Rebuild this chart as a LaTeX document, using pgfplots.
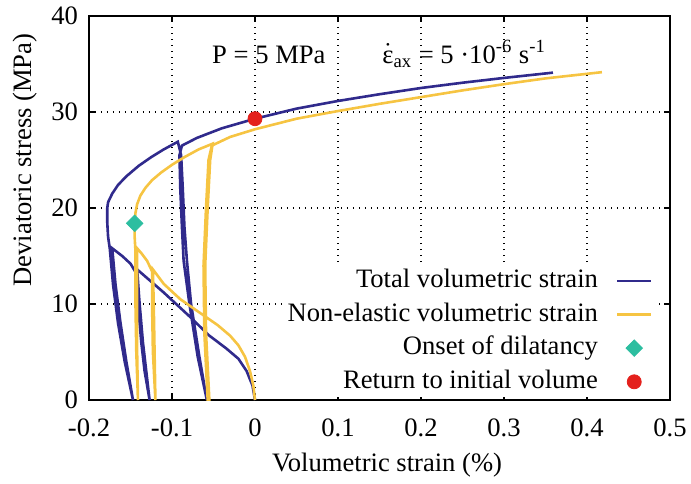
\documentclass[border=0pt]{standalone}
\usepackage{fontspec}
\setmainfont{Liberation Serif}
\usepackage{amsmath}
\usepackage{pgfplots}
\pgfplotsset{compat=1.18}

\definecolor{totblue}{RGB}{48,42,140}
\definecolor{nelyellow}{RGB}{246,196,66}
\definecolor{dilteal}{RGB}{44,190,160}
\definecolor{retred}{RGB}{228,32,28}

% total volumetric strain (%) vs deviatoric stress (MPa)
\pgfplotstableread{
x y
0 0
-0.003 1.5
-0.01 3
-0.02 4.3
-0.035 5.4
-0.055 6.7
-0.08 8.8
-0.11 11.2
-0.142 13.6
-0.139 10
-0.135 6
-0.131 3
-0.127 0
-0.133 3
-0.137 6
-0.141 10
-0.143 13.2
-0.150 14.2
-0.160 15
-0.172 15.8
-0.168 12
-0.162 8
-0.155 4
-0.147 0
-0.157 4
-0.165 8
-0.171 12
-0.175 15.8
-0.177 17
-0.178 18.5
-0.178 20
-0.177 20.6
-0.172 21.5
-0.165 22.4
-0.155 23.3
-0.14 24.4
-0.125 25.3
-0.11 26.1
-0.093 26.9
-0.089 25.5
-0.087 22
-0.085 18
-0.082 14.5
-0.077 10
-0.067 4.5
-0.058 0
-0.069 4.5
-0.079 10
-0.086 14.5
-0.088 18
-0.090 22
-0.091 25.5
-0.088 26.5
-0.07 27.3
-0.04 28.3
-0.02 28.8
0 29.3
0.05 30.35
0.1 31.15
0.15 31.85
0.2 32.5
0.25 33.05
0.3 33.55
0.359 34.1
}\total

% non-elastic volumetric strain
\pgfplotstableread{
x y
0 0
-0.002 1.5
-0.006 3
-0.012 4.5
-0.02 5.7
-0.03 6.7
-0.045 7.8
-0.065 9.0
-0.09 10.5
-0.11 12.1
-0.123 13.6
-0.122 10
-0.121 5
-0.120 0
-0.123 5
-0.124 10
-0.124 13.4
-0.13 14.5
-0.137 15.3
-0.142 15.8
-0.142 10
-0.142 5
-0.141 0
-0.143 5
-0.144 10
-0.144 15.5
-0.145 17
-0.145 18.5
-0.144 19.5
-0.142 20.4
-0.138 21.3
-0.132 22.1
-0.124 22.9
-0.113 23.7
-0.1 24.5
-0.085 25.3
-0.068 26.1
-0.051 26.7
-0.054 25
-0.057 20
-0.060 14
-0.059 7
-0.055 0
-0.057 0
-0.061 7
-0.062 14
-0.059 20
-0.056 25
-0.052 26.5
-0.03 27.4
0 28.2
0.05 29.3
0.1 30.1
0.15 30.85
0.2 31.55
0.25 32.25
0.3 32.9
0.35 33.5
0.418 34.15
}\nonel

\begin{document}
\begin{tikzpicture}[font=\fontsize{13.3bp}{15.5bp}\selectfont]
\begin{axis}[
    at={(0,0)}, anchor=south west,
    scale only axis,
    width=290.5bp, height=192bp,
    xmin=-0.2, xmax=0.5, ymin=0, ymax=40,
    xtick={-0.2,-0.1,0,0.1,0.2,0.3,0.4,0.5},
    ytick={0,10,20,30,40},
    tick align=inside,
    major tick length=3bp,
    tick style={black, line width=0.9bp},
    axis line style={line width=1.2bp},
    grid=major,
    grid style={black, line width=0.7bp, dash pattern=on 0.7bp off 2.3bp},
    /pgf/number format/assume math mode=true,
    xticklabel style={yshift=-6bp},
    yticklabel style={xshift=-2bp},
    xlabel={Volumetric strain (\%)},
    ylabel={Deviatoric stress (MPa)},
    xlabel style={at={(axis description cs:0.513,-0.169)}, anchor=center},
    ylabel style={at={(axis description cs:-0.11,0.625)}, anchor=center},
    legend cell align=right,
    legend plot pos=right,
    legend style={draw=none, fill=white, inner xsep=3bp, inner ysep=1.5bp,
        at={(0.981,0.006)}, anchor=south east,
        row sep=4.3bp, column sep=9bp,
        nodes={inner sep=0pt, text height=9.5bp, text depth=3bp}},
]
\addplot[totblue, line width=1.3bp] table {\total};
\addlegendentry{Total volumetric strain}
\addplot[nelyellow, line width=1.3bp] table {\nonel};
\addlegendentry{Non-elastic volumetric strain}
\addplot[only marks, mark=square*, mark size=2.9bp, mark options={rotate=45, fill=dilteal, draw=dilteal}] coordinates {(-0.145,18.4)};
\addlegendentry{Onset of dilatancy}
\addplot[only marks, mark=*, mark size=3.5bp, mark options={fill=retred, draw=retred}] coordinates {(0,29.3)};
\addlegendentry{Return to initial volume}

\node[anchor=base west, inner sep=0pt] at (axis cs:-0.052,35.1) {P = 5 MPa};
\node[anchor=base west, inner sep=0pt] at (axis cs:0.153,35.1) {$\dot{\text{ε}}_{\text{ax}}$ = 5 ·10\textsuperscript{-6} s\textsuperscript{-1}};
\end{axis}
\pgfresetboundingbox
\useasboundingbox (-44.5bp,-42bp) rectangle (301bp,200bp);
\end{tikzpicture}
\end{document}
